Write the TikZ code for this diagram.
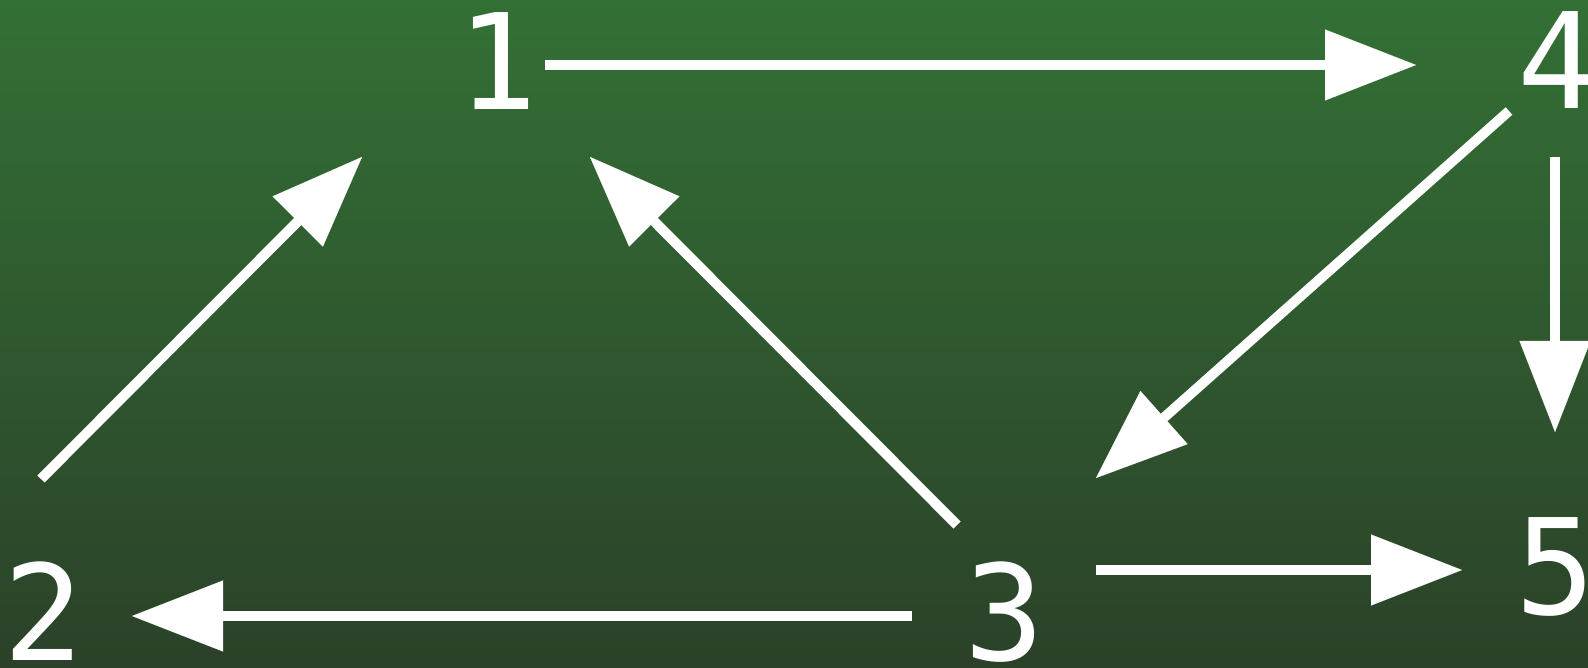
\documentclass[tikz,border=0pt]{standalone}
\usepackage{fontspec}
\setmonofont{DejaVu Sans Mono}
\usetikzlibrary{arrows.meta,calc}
\definecolor{bgtop}{RGB}{51,112,53}
\definecolor{bgbot}{RGB}{43,65,41}
\tikzset{
  num/.style={text=white,font=\fontsize{133}{133}\selectfont\ttfamily,inner sep=0pt,anchor=center},
  arr/.style={draw=white,line width=10pt,-{Triangle[length=91pt,width=71pt,line width=0.1pt]}}
}
\begin{document}
\begin{tikzpicture}[x=1pt,y=-1pt]
\shade[top color=bgtop,bottom color=bgbot] (0,0) rectangle (1588,668);
\useasboundingbox (0,0) rectangle (1588,668);
\node[num] (n1) at (498,61) {1};
\node[num] (n4) at (1558,60) {4};
\node[num] (n2) at (44,611) {2};
\node[num] (n3) at (1005,612) {3};
\node[num] (n5) at (1556,567) {5};
\draw[arr] ($(n1)+(47,4)$) -- ($(n4)+(-142,5)$);
\draw[arr] ($(n4)+(-49,51)$) -- ($(n3)+(91,-134)$);
\draw[arr] ($(n4)+(-3,97)$) -- ($(n5)+(-1,-135)$);
\draw[arr] ($(n3)+(-48,-87)$) -- ($(n1)+(92,96)$);
\draw[arr] ($(n2)+(-3,-132)$) -- ($(n1)+(-136,96)$);
\draw[arr] ($(n3)+(-93,4)$) -- ($(n2)+(88,5)$);
\draw[arr] ($(n3)+(91,-42)$) -- ($(n5)+(-94,3)$);
\end{tikzpicture}
\end{document}
